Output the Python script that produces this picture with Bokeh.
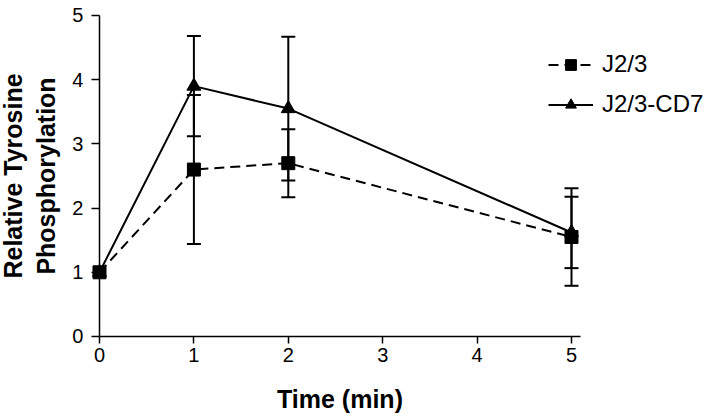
from bokeh.plotting import figure
from bokeh.models import Range1d, ColumnDataSource, Whisker, TeeHead, FixedTicker, Legend, LegendItem
from bokeh.embed import file_html
from bokeh.resources import INLINE

# Data
time_min = [0, 1, 2, 5]
j23_mean = [1.0, 2.6, 2.7, 1.55]
j23_err = [0.0, 1.16, 0.53, 0.76]
cd7_mean = [1.0, 3.9, 3.55, 1.62]
cd7_err = [0.0, 0.78, 1.12, 0.555]
x_ticks = [0, 1, 2, 3, 4, 5]
y_ticks = [0, 1, 2, 3, 4, 5]

FONT = "Liberation Sans"

p = figure(width=712, height=418, output_backend="svg", toolbar_location=None,
           x_range=Range1d(-1.0487, 6.4937), y_range=Range1d(-1.2773, 5.2336),
           min_border=0)
p.outline_line_color = None
p.grid.visible = False
p.background_fill_color = "white"
p.border_fill_color = "white"

def whisk_source(m, e):
    xs, lo, hi = [], [], []
    for x, mm, ee in zip(time_min, m, e):
        if ee > 0:
            xs.append(x); lo.append(mm - ee); hi.append(mm + ee)
    return ColumnDataSource(dict(x=xs, lower=lo, upper=hi))

for m, e in ((cd7_mean, cd7_err), (j23_mean, j23_err)):
    w = Whisker(source=whisk_source(m, e), base="x", lower="lower", upper="upper",
                line_color="black", line_width=2,
                upper_head=TeeHead(size=14, line_width=2, line_color="black"),
                lower_head=TeeHead(size=14, line_width=2, line_color="black"))
    p.add_layout(w)

src_cd7 = ColumnDataSource(dict(x=time_min, y=cd7_mean))
src_j23 = ColumnDataSource(dict(x=time_min, y=j23_mean))

l_cd7 = p.line("x", "y", source=src_cd7, line_color="black", line_width=2)
s_cd7 = p.scatter("x", "y", source=src_cd7, marker="triangle", size=14, color="black")
l_j23 = p.line("x", "y", source=src_j23, line_color="black", line_width=2, line_dash="10 6")
s_j23 = p.scatter("x", "y", source=src_j23, marker="square", size=13, color="black")

# axes
for ax in (p.xaxis[0], p.yaxis[0]):
    ax.axis_line_width = 1.5
    ax.major_tick_line_width = 1.5
    ax.minor_tick_line_color = None
    ax.major_tick_in = 0
    ax.major_label_text_font = FONT
    ax.major_label_text_font_size = "20px"
    ax.major_label_text_color = "black"
    ax.axis_label_text_font = FONT
    ax.axis_label_text_font_style = "bold"
    ax.axis_label_text_font_size = "25px"
    ax.axis_label_text_color = "black"

p.xaxis[0].fixed_location = 0
p.yaxis[0].fixed_location = 0
p.xaxis[0].bounds = (0, 5.1)
p.yaxis[0].bounds = (0, 5)
p.xaxis[0].ticker = FixedTicker(ticks=x_ticks)
p.yaxis[0].ticker = FixedTicker(ticks=y_ticks)
p.xaxis[0].major_tick_out = 7
p.yaxis[0].major_tick_out = 8
p.xaxis[0].major_label_standoff = 5
p.yaxis[0].major_label_standoff = 8
p.xaxis[0].axis_label = "Time (min)"
p.yaxis[0].axis_label = "Relative Tyrosine\nPhosphorylation"
p.xaxis[0].axis_label_standoff = 19
p.yaxis[0].axis_label_standoff = 9

legend = Legend(items=[LegendItem(label="J2/3", renderers=[l_j23, s_j23]),
                       LegendItem(label="J2/3-CD7", renderers=[l_cd7, s_cd7])],
                location=(548, 300), border_line_color=None, background_fill_alpha=0,
                padding=0, margin=0, glyph_width=45, glyph_height=27, label_height=20,
                spacing=12, label_standoff=9,
                label_text_font=FONT, label_text_font_size="24px", label_text_color="black")
p.add_layout(legend)

open("out.html", "w").write(file_html(p, INLINE))
